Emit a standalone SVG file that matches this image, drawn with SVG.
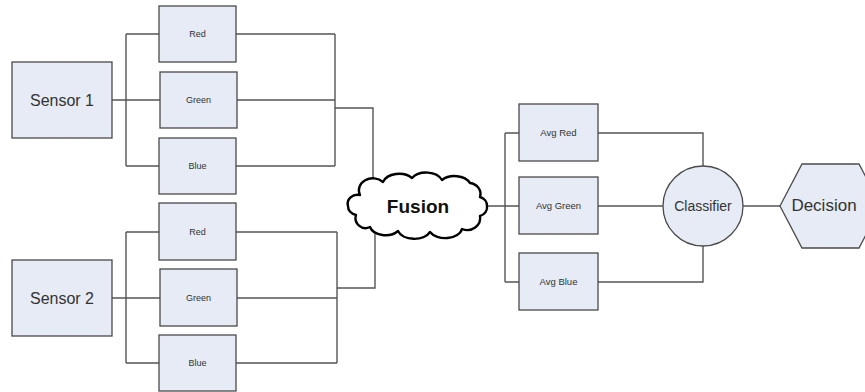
<svg xmlns="http://www.w3.org/2000/svg" width="865" height="392" viewBox="0 0 865 392">
<style>
.box{fill:#e6ebf5;stroke:#4a4a4a;stroke-width:1.3}
.conn{fill:none;stroke:#555;stroke-width:1.4}
.t{font-family:"Liberation Sans",Arial,sans-serif;fill:#333;text-anchor:middle;dominant-baseline:central}
.s{font-size:9px}
.a{font-size:9.5px}
.big{font-size:16px}
</style>
<rect width="865" height="392" fill="#fff"/>
<g id="connectors" class="conn">
<path d="M112,100H160M126,34V166M126,34H159M126,166H159"/>
<path d="M236,34H335M237,100H335M236,166H335M335,34V166M335,108H373V190"/>
<path d="M112,298H160M126,232V363M126,232H159M126,363H159"/>
<path d="M236,232H337M237,298H337M236,363H337M337,232V363M337,288H375V225"/>
<path d="M485,206H519M505,133V282M505,133H519M505,282H519"/>
<path d="M598,133H703V166M598,206H663M598,282H703V246M743,206H780"/>
</g>
<g id="sensor1"><rect class="box" x="12" y="62" width="100" height="76"/><text class="t big" x="62" y="100">Sensor 1</text></g>
<g id="red1"><rect class="box" x="159" y="6" width="77" height="56"/><text class="t s" x="197.5" y="34">Red</text></g>
<g id="green1"><rect class="box" x="160" y="72" width="77" height="56"/><text class="t s" x="198.5" y="100">Green</text></g>
<g id="blue1"><rect class="box" x="159" y="138" width="77" height="56"/><text class="t s" x="197.5" y="166">Blue</text></g>
<g id="sensor2"><rect class="box" x="12" y="260" width="100" height="76"/><text class="t big" x="62" y="298">Sensor 2</text></g>
<g id="red2"><rect class="box" x="159" y="203" width="77" height="57"/><text class="t s" x="197.5" y="231.5">Red</text></g>
<g id="green2"><rect class="box" x="160" y="269" width="77" height="57"/><text class="t s" x="198.5" y="297.5">Green</text></g>
<g id="blue2"><rect class="box" x="159" y="335" width="77" height="56"/><text class="t s" x="197.5" y="363">Blue</text></g>
<g id="fusion">
<path d="M360,195 A14,12 0 0 1 383,182 A17,12 0 0 1 412,178 A17,12 0 0 1 442,180 A17,12 0 0 1 470,183 A12,11 0 0 1 480,197 A10,9 0 0 1 487,206 A10,9 0 0 1 480,216 A13,12 0 0 1 462,229 A17,11 0 0 1 430,232 A17,11 0 0 1 398,231 A16,11 0 0 1 370,227 A10,10 0 0 1 356,215 A10,9 0 0 1 348,206 A10,9 0 0 1 360,195 Z" fill="#fff" stroke="#000" stroke-width="2.4" stroke-linejoin="round"/>
<text class="t" x="418" y="206" style="font-size:19px;font-weight:bold;fill:#111">Fusion</text>
</g>
<g id="avgred"><rect class="box" x="519" y="104" width="79" height="57"/><text class="t a" x="558.5" y="132.5">Avg Red</text></g>
<g id="avggreen"><rect class="box" x="519" y="177" width="79" height="57"/><text class="t a" x="558.5" y="205.5">Avg Green</text></g>
<g id="avgblue"><rect class="box" x="519" y="253" width="79" height="57"/><text class="t a" x="558.5" y="281.5">Avg Blue</text></g>
<g id="classifier"><circle class="box" cx="703" cy="206" r="40"/><text class="t" x="703" y="206" style="font-size:14px">Classifier</text></g>
<g id="decision"><polygon class="box" points="780,206 802,164 859,164 881,206 859,248 802,248"/><text class="t" x="824" y="205" style="font-size:17px">Decision</text></g>
</svg>
